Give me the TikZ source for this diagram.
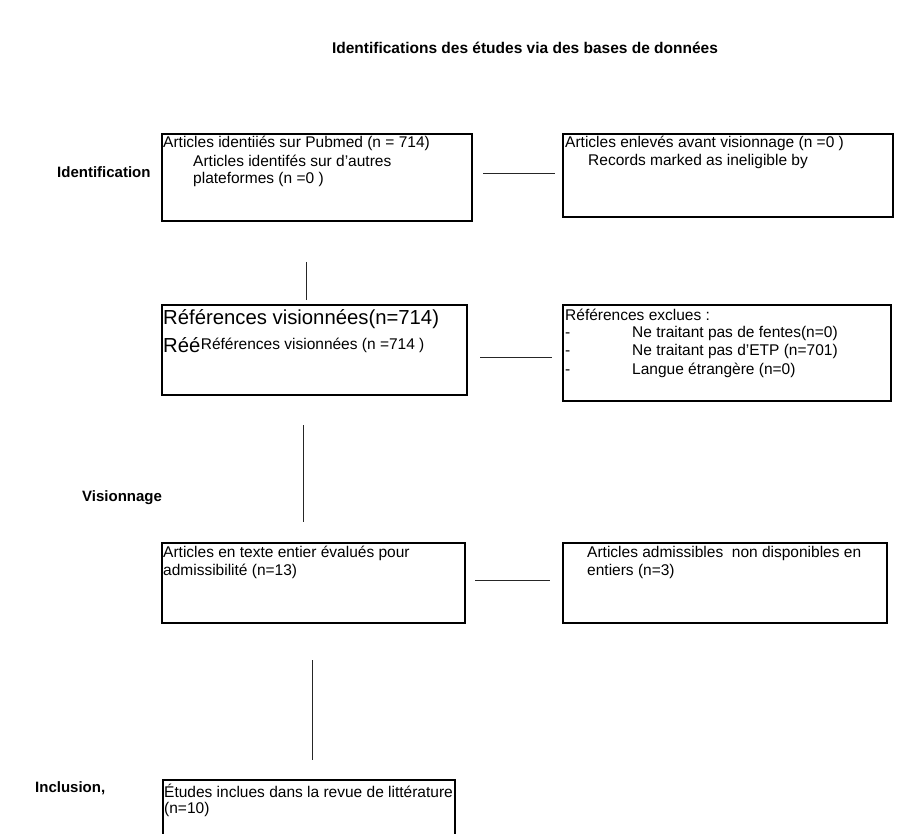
\documentclass[tikz,border=0pt]{standalone}
\usepackage{fontspec}
\setmainfont{Liberation Sans}
\begin{document}
\begin{tikzpicture}[x=1pt,y=-1pt,
  box/.style={draw=black,line width=1.4pt},
  conn/.style={draw=black!85,line width=0.9pt},
  txt/.style={anchor=west,inner sep=0pt,font=\fontsize{15.5}{16}\selectfont},
  big/.style={anchor=west,inner sep=0pt,font=\fontsize{20.3}{22}\selectfont},
  lbl/.style={anchor=west,inner sep=0pt,font=\fontsize{15}{16}\selectfont\bfseries}]
\useasboundingbox (0,0) rectangle (899,834);
\clip (0,0) rectangle (899,834);
% title
\node[lbl,anchor=center,font=\fontsize{15.5}{16}\selectfont\bfseries] (title) at (525,48) {Identifications des études via des bases de données};
% side labels
\node[lbl] (lid) at (57,172) {Identification};
\node[lbl] (lvis) at (82,498) {Visionnage};
\node[lbl] (linc) at (35,788) {Inclusion,};
% boxes
\draw[box] (162,134) rectangle (472,221) coordinate (b1);
\draw[box] (563,134) rectangle (893,217) coordinate (b2);
\draw[box] (162,305) rectangle (467,395) coordinate (b3);
\draw[box] (563,305) rectangle (891,401) coordinate (b4);
\draw[box] (162,543) rectangle (465,623) coordinate (b5);
\draw[box] (563,543) rectangle (887,623) coordinate (b6);
\draw[box] (163,780) rectangle (455,860) coordinate (b7);
% box 1 text
\node[txt] (t11) at (163,143) {Articles identiiés sur Pubmed (n = 714)};
\node[txt] (t12) at (193,161) {Articles identifés sur d’autres};
\node[txt] (t13) at (193,179) {plateformes (n =0 )};
% box 2 text
\node[txt] (t21) at (565,143) {Articles enlevés avant visionnage (n =0 )};
\node[txt] (t22) at (588,161) {Records marked as ineligible by};
% box 3 text
\node[big] (t31) at (163,319) {Références visionnées(n=714)};
\node[big] (t32) at (163,345) {Réé};
\node[txt] (t33) at (t32.east) {Références visionnées (n =714 )};
% box 4 text
\node[txt] (t41) at (565,315) {Références exclues :};
\node[txt] (t42) at (632,333) {Ne traitant pas de fentes(n=0)};
\node[txt] (t43) at (632,351) {Ne traitant pas d’ETP (n=701)};
\node[txt] (t44) at (632,370) {Langue étrangère (n=0)};
\path (t42.base west) ++(-67,0) node[txt,anchor=base west] (d1) {-};
\path (t43.base west) ++(-67,0) node[txt,anchor=base west] (d2) {-};
\path (t44.base west) ++(-67,0) node[txt,anchor=base west] (d3) {-};
% box 5 text
\node[txt] (t51) at (163,553) {Articles en texte entier évalués pour};
\node[txt] (t52) at (163,571) {admissibilité (n=13)};
% box 6 text
\node[txt] (t61) at (587,553) {Articles admissibles\ \ non disponibles en};
\node[txt] (t62) at (587,571) {entiers (n=3)};
% box 7 text
\node[txt] (t71) at (164,791) {Études inclues dans la revue de littérature};
\node[txt] (t72) at (164,809) {(n=10)};
% connectors
\coordinate (h1a) at (483,173); \coordinate (h1b) at (555,173);
\coordinate (h2a) at (480,357); \coordinate (h2b) at (552,357);
\coordinate (h3a) at (475,580); \coordinate (h3b) at (550,580);
\coordinate (v1a) at (306,262); \coordinate (v1b) at (306,300);
\coordinate (v2a) at (303,425); \coordinate (v2b) at (303,522);
\coordinate (v3a) at (312,660); \coordinate (v3b) at (312,760);
\draw[conn] (h1a) -- (h1b);
\draw[conn] (h2a) -- (h2b);
\draw[conn] (h3a) -- (h3b);
\draw[conn] (v1a) -- (v1b);
\draw[conn] (v2a) -- (v2b);
\draw[conn] (v3a) -- (v3b);
\end{tikzpicture}
\end{document}
